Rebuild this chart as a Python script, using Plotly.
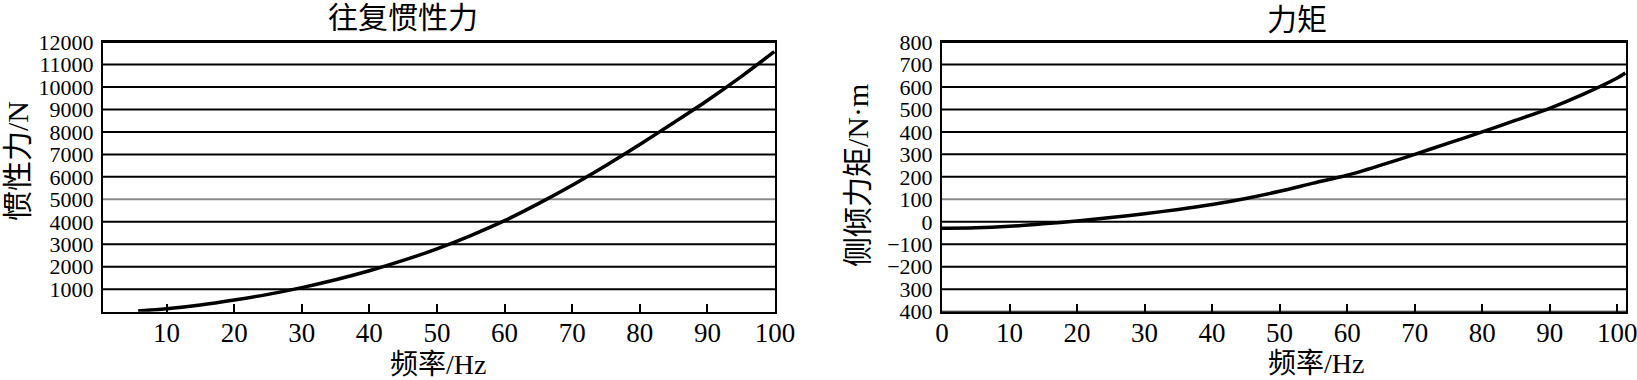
import plotly.graph_objects as go

# ---------------- data ----------------
# left: reciprocating inertia force vs frequency
freq_force = [5.8, 10, 15, 20, 25, 30, 35, 40, 45, 50, 55, 60, 65, 70, 75, 80, 85, 90, 95, 99.9]
force_N = [30, 130, 300, 520, 770, 1070, 1420, 1820, 2280, 2800, 3390, 4050, 4810, 5630, 6510, 7440, 8410, 9400, 10460, 11570]

# right: tilting moment vs frequency
freq_moment = [0, 5, 10, 15, 20, 25, 30, 35, 40, 45, 50, 55, 60, 65, 70, 75, 80, 85, 90, 95, 100, 101.2]
moment_Nm = [-29, -27, -20, -9, 4, 19, 36, 55, 77, 104, 136, 172, 207, 252, 300, 350, 400, 452, 505, 568, 640, 662]

left_xticks = [10, 20, 30, 40, 50, 60, 70, 80, 90, 100]
left_yticks = [1000, 2000, 3000, 4000, 5000, 6000, 7000, 8000, 9000, 10000, 11000, 12000]
left_grey = [5000]

right_xticks = [0, 10, 20, 30, 40, 50, 60, 70, 80, 90, 100]
right_yticks = [800, 700, 600, 500, 400, 300, 200, 100, 0, -100, -200, -300, -400]
right_ytext = ["800", "700", "600", "500", "400", "300", "200", "100", "0", "−100", "−200", "300", "400"]
right_grey = [100]

titles = ["往复惯性力", "力矩"]
xtitles = ["频率/Hz", "频率/Hz"]
ytitles = ["惯性力/N", "侧倾力矩/N·m"]

# ---------------- figure ----------------
W, H = 1637, 380
FONT = "Liberation Serif, Noto Sans CJK SC, serif"

def px(x):
    return x / W

def py(y):
    return 1 - y / H

fig = go.Figure()

# grid lines (drawn as shapes so one of them can be lighter)
for v in left_yticks:
    fig.add_shape(type="line", xref="x domain", yref="y", x0=0, x1=1, y0=v, y1=v,
                  line=dict(color="#8a8a8a" if v in left_grey else "black", width=2), layer="below")
for v in right_yticks:
    fig.add_shape(type="line", xref="x2 domain", yref="y2", x0=0, x1=1, y0=v, y1=v,
                  line=dict(color="#8a8a8a" if v in right_grey else "black", width=2), layer="below")

fig.add_trace(go.Scatter(x=freq_force, y=force_N, mode="lines",
                         line=dict(color="black", width=3.5, shape="spline", smoothing=0.8),
                         xaxis="x", yaxis="y", showlegend=False, hoverinfo="skip"))
fig.add_trace(go.Scatter(x=freq_moment, y=moment_Nm, mode="lines",
                         line=dict(color="black", width=3.5, shape="spline", smoothing=0.8),
                         xaxis="x2", yaxis="y2", showlegend=False, hoverinfo="skip"))

ydom = [py(311.7), py(42)]
common_x = dict(showline=True, linecolor="black", linewidth=2, mirror=True, showgrid=False, zeroline=False,
                ticks="inside", ticklen=8, tickwidth=2, tickcolor="black", automargin=False,
                ticklabeloverflow="allow", ticklabelstandoff=-4,
                tickfont=dict(family=FONT, size=27, color="black"))
common_y = dict(showline=True, linecolor="black", linewidth=2, mirror=True, showgrid=False, automargin=False,
                zeroline=False, ticks="", tickfont=dict(family=FONT, size=22, color="black"),
                ticklabeloverflow="allow", ticklabelstandoff=3)

fig.update_layout(
    width=W, height=H, margin=dict(l=0, r=0, t=0, b=0, autoexpand=False),
    paper_bgcolor="white", plot_bgcolor="white",
    xaxis=dict(domain=[px(103), px(775)], range=[0.6, 100.0], tickvals=left_xticks, anchor="y", **common_x),
    yaxis=dict(domain=ydom, range=[0, 12000], tickvals=left_yticks,
               ticktext=[str(v) for v in left_yticks], anchor="x", **common_y),
    xaxis2=dict(domain=[px(942), px(1626)], range=[0, 101.3], tickvals=right_xticks, anchor="y2", **common_x),
    yaxis2=dict(domain=ydom, range=[-400, 800], tickvals=right_yticks, ticktext=right_ytext, anchor="x2", **common_y),
)

ann = []
# titles
ann.append(dict(text=titles[0], x=px(403), y=py(17), xref="paper", yref="paper", showarrow=False,
                font=dict(family=FONT, size=30, color="black"), xanchor="center", yanchor="middle"))
ann.append(dict(text=titles[1], x=px(1297), y=py(19), xref="paper", yref="paper", showarrow=False,
                font=dict(family=FONT, size=30, color="black"), xanchor="center", yanchor="middle"))
# x titles
ann.append(dict(text=xtitles[0], x=px(438), y=py(364), xref="paper", yref="paper", showarrow=False,
                font=dict(family=FONT, size=28, color="black"), xanchor="center", yanchor="middle"))
ann.append(dict(text=xtitles[1], x=px(1316), y=py(363), xref="paper", yref="paper", showarrow=False,
                font=dict(family=FONT, size=28, color="black"), xanchor="center", yanchor="middle"))
# y titles
ann.append(dict(text=ytitles[0], x=px(17), y=py(161), xref="paper", yref="paper", showarrow=False, textangle=-90,
                font=dict(family=FONT, size=30, color="black"), xanchor="center", yanchor="middle"))
ann.append(dict(text=ytitles[1], x=px(857), y=py(176), xref="paper", yref="paper", showarrow=False, textangle=-90,
                font=dict(family=FONT, size=30, color="black"), xanchor="center", yanchor="middle"))
# "0" label left of the first plot
ann.append(dict(text="0", x=0, y=py(332), xref="x", yref="paper", showarrow=False, xshift=-6,
                font=dict(family=FONT, size=25, color="black"), xanchor="center", yanchor="middle"))
fig.update_layout(annotations=ann)

fig.write_html("out.html")
